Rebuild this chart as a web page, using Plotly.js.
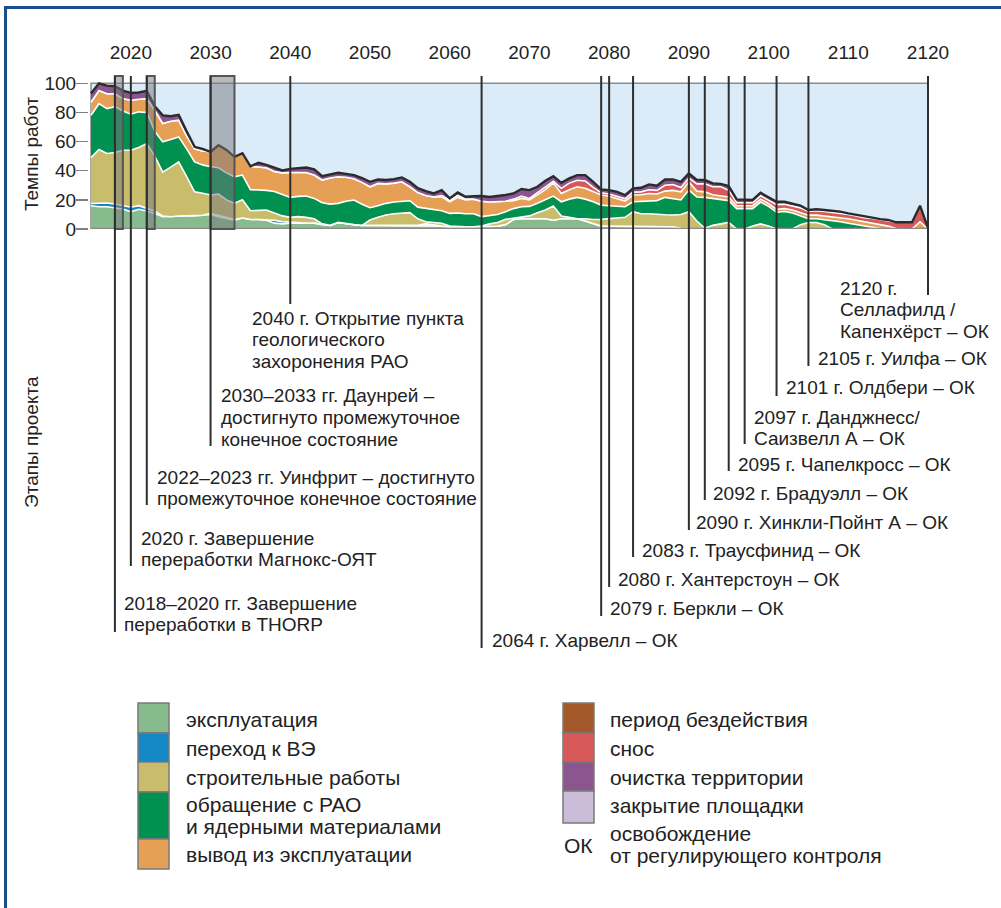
<!DOCTYPE html>
<html>
<head>
<meta charset="utf-8">
<script src="https://cdn.plot.ly/plotly-3.0.1.min.js"></script>
<style>
  html, body { margin: 0; padding: 0; background: #ffffff; }
  #chart { width: 1001px; height: 908px; }
</style>
</head>
<body>
<div id="chart"></div>
<script>
// ---------------- DATA ----------------
const years = [
  2015,2016,2017,2018,2019,2020,2021,2022,2023,2024,
  2025,2026,2027,2028,2029,2030,2031,2032,2033,2034,
  2035,2036,2037,2038,2039,2040,2041,2042,2043,2044,
  2045,2046,2047,2048,2049,2050,2051,2052,2053,2054,
  2055,2056,2057,2058,2059,2060,2061,2062,2063,2064,
  2065,2066,2067,2068,2069,2070,2071,2072,2073,2074,
  2075,2076,2077,2078,2079,2080,2081,2082,2083,2084,
  2085,2086,2087,2088,2089,2090,2091,2092,2093,2094,
  2095,2096,2097,2098,2099,2100,2101,2102,2103,2104,
  2105,2106,2107,2108,2109,2110,2111,2112,2113,2114,
  2115,2116,2117,2118,2119,2120
];

// эксплуатация
const operation = [
  16,15.3,15.3,14.6,13.7,11.9,13.5,12.3,10.7,8.4,
  8.4,8.9,9,8.9,9.4,10,8.5,7,6,7.5,
  6.6,6.5,6,4,3.5,4,4,4,4,3,
  2.5,4.5,3.5,3,2.5,2.5,2.5,2.5,2.5,2.5,
  2.5,2.5,2,2,2,1.5,1.5,1.5,1.5,2,
  2,2,3,6.5,7,7,7,7,6,7,
  7,7,5.5,4,2,2,2,2,2,2,
  2,2,2,1.5,0.5,0,0,0,0,0,
  0,0,0,0,0,0,0,0,0,0,
  0,0,0,0,0,0,0,0,0,0,
  0,0,0,0,0,0
];
// переход к ВЭ
const transition = [
  1.5,2.5,2.5,2.5,2.5,3,2.5,2,1.5,0.5,
  0,0,0,0,0,0.8,0.8,0.8,0.5,0,
  0,0,0.5,2,1.5,0.5,0.5,0,0,0,
  0,0,0,0,0,0,0,0,0,0,
  0,0,1.5,0.5,0,0,0,0,0,0,
  0,0,0,0,0,0,0,0,0,0,
  0,0,0,0,0,0,0,0,0,0,
  0,0,0,0,0,0,0,0,0,0,
  0,0,0,0,0,0,0,0,0,0,
  0,0,0,0,0,0,0,0,0,0,
  0,0,0,0,0,0
];
// строительные работы
const construction = [
  31.5,36.8,34,35.4,37.8,39.1,40,44.4,37.8,30.1,
  34.1,37.1,27,16.6,15.1,12.5,14.7,12.2,11.1,12.5,
  5.9,6,6.5,5,4,3.5,4,4,3,0.5,
  0,0,0,0,0,3.7,5.5,7.1,8,8.5,
  8.7,4.5,1.5,2,2,0.5,0,0,0,0,
  1.5,2.5,3.6,1,1.4,2,4.2,6,9.8,1.9,
  1,0,1.5,2.5,4.6,5,5.5,6,9.9,8.5,
  8.5,8,7.8,8.1,9.5,11.9,5.5,0.5,2.5,3.5,
  4.5,0,0,2,3.5,2,0,0,0,3,
  4.5,4.5,3,0,0,0,0,0,0,0,
  0,0,0,0,0,0
];
// обращение с РАО и ядерными материалами
const wasteMgmt = [
  29,31.4,30.8,31.5,27,24.8,24.4,21.3,17,20.8,
  19,17.2,19,20.5,19.5,19.4,18,18.5,18.2,17,
  14.5,14.5,13.5,14.8,14.5,13.7,13.9,14.6,14,14.5,
  14.6,13.1,15.5,16.9,14.5,8.4,8,8,8,8,
  8.2,8,9,8.5,8.5,8.7,9.5,9,9,6.5,
  5.5,5.5,5.3,6.5,6.9,6.5,6.4,7,6.8,9.8,
  12.5,14.7,13.5,12.2,9.8,9,8,7.3,6.8,8.5,
  8.9,9.5,11.9,11.4,9.9,14.8,16.5,21.2,18.5,17,
  15,14,14,12,15,13.5,11.5,12,11,6,
  2.5,2.5,3.5,6,5,4,3,2,1,0.3,
  0,0,0,0,0,0
];
// вывод из эксплуатации
const decommissioning = [
  9,9,10.2,8.8,8.5,9.6,8.6,9.5,14.5,12.6,
  12.5,11.5,9,9,9.5,10.3,15.5,15.8,13.7,15,
  16,15.5,15.5,13.7,15,17.1,16.4,16.2,16,15.6,
  17.9,18.2,16.5,14.6,15,14.4,15.3,13.4,13,13.4,
  9.6,10,9,9,9.5,8,10.7,9.5,10,10.5,
  9.5,8.5,7.1,5.5,5.7,4.5,5.7,7,9.1,5.7,
  6.5,7.3,7.5,6.9,6.9,6.5,5.5,3.9,4.6,4.5,
  5,4.5,4.3,5.5,5.6,5.7,4,3.8,2.5,2.5,
  2.5,2,2,2,2,2,2,2,2,2.5,
  2.5,2.5,2.5,2.5,3,3,3,3,3,2.7,
  2,0.3,0,0,5,0
];
// снос
const demolition = [
  0,0,0,0,0,0,0,0,0,0,
  0,0,0,0,0,0,0,0,0,0,
  0,0,0,0,0,0,0,0,0,0,
  0,0,0,0,0,0,0,0,0,0,
  0,0,0,0,1,1,1.3,0.5,0,0,
  0,0,0,1,1.5,1,1.5,1.5,1,3.5,
  4.5,4.5,5,3,1.5,1.5,1.5,1.5,2,2,
  2.5,2.5,4,4,3,2.5,5,5.5,5.5,6,
  4.5,2,2,2,2.3,2.2,3.2,3,3,3,
  2.5,3,3,3,3,3,3,2.8,3.2,3.3,
  3.8,4.3,4.6,4.6,11,0.5
];
// очистка территории
const siteClearance = [
  6,5,5.6,5.2,5.5,5,4.7,5.3,2.7,5.6,
  3.4,3.6,3,1.4,1.5,0,0,0,0,0,
  0,2.9,2,2.5,1.7,2.5,2.7,3.4,4,2.7,
  2.5,2.8,2.3,2.5,3,3.4,2.7,2.6,2.7,3,
  3.4,3,3,2.4,3.7,1.3,2.1,1.6,2,3.6,
  3.5,4.1,4.3,3.9,4.9,5.7,4.2,4.6,3.6,3.8,
  3.2,3.5,4,3.8,2.4,2.7,3,2.6,2.6,2.8,
  3.7,3.2,4,3.5,3.9,3.2,2.6,2.6,2.3,2,
  3,2.3,1.9,1.9,2.1,2,2,1.7,1.6,1.5,
  1,1,1,1.1,0.9,0.7,0.6,0.6,0.6,0.5,
  0.4,0,0,0,0,0
];

const xTickVals = [2020,2030,2040,2050,2060,2070,2080,2090,2100,2110,2120];
const yTickVals = [0,20,40,60,80,100];

// grey highlighted periods
const periodStarts = [2018, 2022, 2030];
const periodEnds   = [2019, 2023, 2033];

// project milestones
const milestoneYears = [2018,2020,2022,2030,2040,2064,2079,2080,2083,2090,2092,2095,2097,2101,2105,2120];
const milestoneTexts = [
  "2018–2020 гг. Завершение<br>переработки в THORP",
  "2020 г. Завершение<br>переработки Магнокс-ОЯТ",
  "2022–2023 гг. Уинфрит – достигнуто<br>промежуточное конечное состояние",
  "2030–2033 гг. Даунрей –<br>достигнуто промежуточное<br>конечное состояние",
  "2040 г. Открытие пункта<br>геологического<br>захоронения РАО",
  "2064 г. Харвелл – ОК",
  "2079 г. Беркли – ОК",
  "2080 г. Хантерстоун – ОК",
  "2083 г. Траусфинид – ОК",
  "2090 г. Хинкли-Пойнт А – ОК",
  "2092 г. Брадуэлл – ОК",
  "2095 г. Чапелкросс – ОК",
  "2097 г. Данджнесс/<br>Саизвелл А – ОК",
  "2101 г. Олдбери – ОК",
  "2105 г. Уилфа – ОК",
  "2120 г.<br>Селлафилд /<br>Капенхёрст – ОК"
];

const legendLeftLabels  = ["эксплуатация","переход к ВЭ","строительные работы","обращение с РАО<br>и ядерными материалами","вывод из эксплуатации"];
const legendRightLabels = ["период бездействия","снос","очистка территории","закрытие площадки"];
const okLabel = "ОК";
const okText = "освобождение<br>от регулирующего контроля";

// ---------------- STYLE ----------------
const C = {
  op: "#87bb8e", trans: "#1489c6", con: "#c9bd6b", waste: "#00904f",
  dec: "#e6a056", care: "#a4592a", demo: "#d8595a", clean: "#8b5690", close: "#cbbcda"
};
const FONT = "Liberation Sans, Arial, sans-serif";
const TXT = "#222222";

// plot area in pixels
const L = 89, T = 76, W = 841, H = 153;
const fx = px => (px - L) / W;
const fy = py => (T + H - py) / H;

function areaTrace(name, y, color, lineColor, lineWidth) {
  return {
    x: years, y: y, name: name, type: "scatter", mode: "lines",
    stackgroup: "one", fillcolor: color,
    line: { color: lineColor || "#ffffff", width: lineWidth || 1.6, shape: "linear" },
    hoverinfo: "skip", showlegend: false
  };
}

const traces = [
  areaTrace("эксплуатация", operation, C.op),
  areaTrace("переход к ВЭ", transition, C.trans),
  areaTrace("строительные работы", construction, C.con),
  areaTrace("обращение с РАО", wasteMgmt, C.waste),
  areaTrace("вывод из эксплуатации", decommissioning, C.dec),
  areaTrace("снос", demolition, C.demo),
  areaTrace("очистка территории", siteClearance, C.clean, "#2b2b2b", 2.4)
];

const shapes = [];
const annotations = [];

// multi-line text placed line by line (tight leading as in the original)
function addText(text, xPx, firstYPx, lineGap, size) {
  const lines = text.split("<br>");
  for (let k = 0; k < lines.length; k++) {
    annotations.push({ xref: "paper", yref: "paper", x: fx(xPx), y: fy(firstYPx + k * lineGap),
      xanchor: "left", yanchor: "middle", align: "left", showarrow: false,
      text: lines[k], font: { family: FONT, size: size, color: TXT } });
  }
}

// light blue background field
shapes.push({ type: "rect", xref: "x", yref: "y", x0: 2015, x1: 2120, y0: 0, y1: 100,
  fillcolor: "#dcebf8", line: { color: "#8c8c8c", width: 1.5 }, layer: "below" });
// bottom axis line
shapes.push({ type: "line", xref: "x", yref: "y", x0: 2015, x1: 2120, y0: 0, y1: 0,
  line: { color: "#8a8a8a", width: 2.5 }, layer: "above" });

// grey period boxes
for (let i = 0; i < periodStarts.length; i++) {
  shapes.push({ type: "rect", xref: "x", yref: "paper", x0: periodStarts[i], x1: periodEnds[i],
    y0: 0, y1: 1, fillcolor: "rgba(118,120,124,0.5)", line: { color: "#555555", width: 2 }, layer: "above" });
}

// milestone leader lines (end pixel) and label positions (left px, first-line center px)
const lineEndPx = [632, 566, 505, 446, 304, 648, 616, 587, 557, 530, 500, 471, 444, 396, 366, 295];
const labelX    = [122, 139, 155, 219, 250, 490, 608, 616, 640, 694, 711, 736, 752, 784, 816, 838];
const labelY    = [603, 538, 477, 396, 318, 640, 608, 579, 550, 522, 493, 464, 417, 387, 358, 288];

for (let i = 0; i < milestoneYears.length; i++) {
  shapes.push({ type: "line", xref: "x", yref: "paper", x0: milestoneYears[i], x1: milestoneYears[i],
    y0: fy(lineEndPx[i]), y1: 1, line: { color: "#2e2e2e", width: 2 }, layer: "above" });
  addText(milestoneTexts[i], labelX[i], labelY[i], 21.5, 19);
}

// axis titles
annotations.push({ xref: "paper", yref: "paper", x: fx(31), y: fy(154), textangle: -90,
  xanchor: "center", yanchor: "middle",
  showarrow: false, text: "Темпы работ", font: { family: FONT, size: 19, color: TXT } });
annotations.push({ xref: "paper", yref: "paper", x: fx(31), y: fy(442), textangle: -90,
  xanchor: "center", yanchor: "middle",
  showarrow: false, text: "Этапы проекта", font: { family: FONT, size: 19, color: TXT } });

// legend
const legLeftColors = [C.op, C.trans, C.con, C.waste, C.dec];
const legLeftY = [[703,733],[733,762],[762,792],[792,839],[839,869]];
const legLeftTextY = [719, 748, 777, 804, 854];
const legRightColors = [C.care, C.demo, C.clean, C.close];
const legRightY = [[703,733],[733,762],[762,791],[791,823]];
const legRightTextY = [719, 748, 777, 805];
for (let i = 0; i < legLeftColors.length; i++) {
  shapes.push({ type: "rect", xref: "paper", yref: "paper", x0: fx(138), x1: fx(169),
    y0: fy(legLeftY[i][1]), y1: fy(legLeftY[i][0]), fillcolor: legLeftColors[i],
    line: { color: "#7a7a7a", width: 1.5 } });
  addText(legendLeftLabels[i], 184, legLeftTextY[i], 22, 21);
}
for (let i = 0; i < legRightColors.length; i++) {
  shapes.push({ type: "rect", xref: "paper", yref: "paper", x0: fx(563), x1: fx(594),
    y0: fy(legRightY[i][1]), y1: fy(legRightY[i][0]), fillcolor: legRightColors[i],
    line: { color: "#7a7a7a", width: 1.5 } });
  addText(legendRightLabels[i], 608, legRightTextY[i], 22, 21);
}
annotations.push({ xref: "paper", yref: "paper", x: fx(578), y: fy(845), xanchor: "center", yanchor: "middle",
  showarrow: false, text: okLabel, font: { family: FONT, size: 21, color: TXT } });
addText(okText, 608, 833, 22, 21);

// outer frame (left & top dark blue edges)
shapes.push({ type: "path", xref: "paper", yref: "paper",
  path: "M " + fx(5.5) + " " + fy(910) + " L " + fx(5.5) + " " + fy(7.5) + " L " + fx(1003) + " " + fy(7.5),
  line: { color: "#1c4e8f", width: 3 } });

const layout = {
  width: 1001, height: 908,
  margin: { l: L, r: 1001 - L - W, t: T, b: 908 - T - H, pad: 0 },
  paper_bgcolor: "#ffffff", plot_bgcolor: "rgba(0,0,0,0)",
  showlegend: false,
  font: { family: FONT, color: TXT },
  xaxis: {
    range: [2014.75, 2120.25], side: "top", tickvals: xTickVals, ticks: "",
    showgrid: false, zeroline: false, showline: false,
    tickfont: { family: FONT, size: 19, color: TXT }, ticklabelstandoff: 12, fixedrange: true
  },
  yaxis: {
    range: [0, 105], tickvals: yTickVals, ticks: "outside", ticklen: 12, tickwidth: 1.5,
    tickcolor: "#808080", showgrid: false, zeroline: false, showline: false,
    tickfont: { family: FONT, size: 19, color: TXT }, ticklabelstandoff: -4, fixedrange: true
  },
  shapes: shapes,
  annotations: annotations
};

Plotly.newPlot("chart", traces, layout, { displayModeBar: false, staticPlot: true });
</script>
</body>
</html>
